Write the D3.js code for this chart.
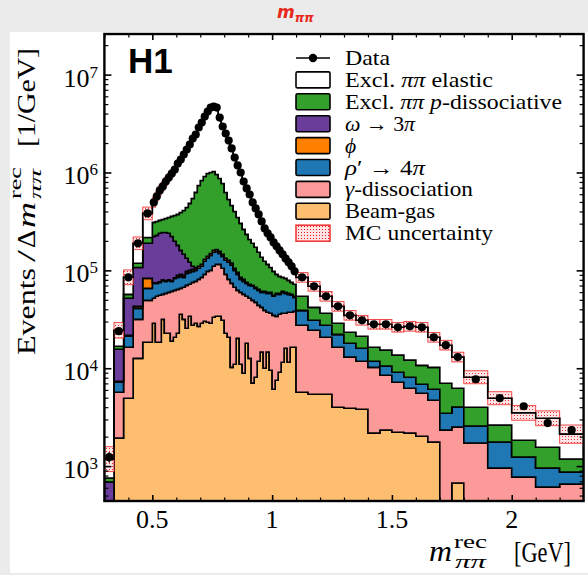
<!DOCTYPE html>
<html>
<head>
<meta charset="utf-8">
<script src="https://cdn.jsdelivr.net/npm/d3@7"></script>
<style>
  html, body { margin: 0; padding: 0; background: #ebebeb; }
  svg { display: block; }
  .serif { font-family: "Liberation Serif", "Times New Roman", serif; }
</style>
</head>
<body>
<svg id="chart" width="588" height="575"></svg>
<script>

// ---- data (values per GeV) ----
// bins: 0.30-0.50 in 0.04 steps, 0.50-1.10 in 0.0125 steps, 1.10-1.80 in 0.05, 1.80-2.30 in 0.1
var binEdges = [0.30, 0.34, 0.38, 0.42, 0.46, 0.50]
	.concat(d3.range(1, 49).map(function(k){ return +(0.5 + 0.0125 * k).toFixed(4); }))
	.concat([1.15, 1.20, 1.25, 1.30, 1.35, 1.40, 1.45, 1.50, 1.55, 1.60, 1.65, 1.70, 1.75, 1.80, 1.90, 2.00, 2.10, 2.20, 2.30]);

var beamGas = [0, 1930, 4940, 12600, 18400,
	28800,18400,18400,31600,22800,22800,18900,20700,22800,35600,31600,25600,34000,27500,28800,26800,28800,30200,29500,28800,33200,34000,34000,30900,22800,20700,10200,11000,20200,11000,8900,18000,12600,7040,8100,11800,14600,10000,14600,9540,6100,7550,9100,11500,16000,11500,16400,16400,
	5690,5430,5430,4000,3900,3810,2170,2330,2220,2170,2020,1760,0,671,0,0,0,0,0];

var gammaDiss = [0, 3760, 11460, 19000, 31000,
	23000,35900,37200,25300,35400,36800,42100,41800,41200,29900,35500,44700,38000,47900,48400,54100,56000,60800,68200,71200,76800,81000,81000,74100,68200,60200,63500,56100,42300,48600,48000,36300,39200,42360,39000,32100,27300,29000,22700,26860,28600,26350,26500,24900,20400,25800,20900,21700,
	21810,18970,15270,12400,9100,7990,8030,6150,4980,4080,3540,2950,2330,1830,1720,954,772,610,655];

var rhoPrime = [0, 1510, 4800, 9300, 16100,
	21900,19400,19800,22200,19000,19500,16200,20400,20800,21400,17700,22900,23400,22300,22800,24100,25200,33000,35300,42000,43000,41000,34000,34000,36000,40100,39300,32900,28500,21300,20300,19400,18500,19300,18400,18600,17700,20600,20900,21800,19600,23000,21300,23200,21800,19600,18300,14900,
	11500,6500,6800,5800,5000,4200,1600,2020,1900,1840,1310,1390,1140,1500,840,806,468,344,214];

var phi = [0, 150, 500, 1960, 17300,
	880,880,900,950,930,950,930,1000,4070,4170,4070,4470,4580,4690,4800,5040,5280,5950,6380,6820,7340,7490,7150,6670,6100,5810,5420,4800,4370,3880,3710,1770,1690,1650,1570,1500,1430,1430,1400,1400,1300,1370,1370,1430,1400,1370,1330,1270,
	0,0,0,0,0,0,0,0,0,0,0,0,0,0,0,0,0,0,0];

var omega = [687, 8280, 30100, 64140, 106200,
	147400,153400,162700,163950,165870,158950,143870,114100,91130,68930,57130,35330,21020,7610,1500,0,0,0,0,0,0,0,0,0,0,0,0,0,0,0,0,0,0,0,0,0,0,0,0,0,0,0,0,0,0,0,0,0,
	0,0,0,0,0,0,0,0,0,0,0,0,0,0,0,0,0,0,0];

var pDiss = [67, 1140, 5100, 11000, 28000,
	87000,88000,85000,87000,95000,108000,134000,166000,193000,230000,263000,306000,362000,433000,520000,627000,713700,780000,837600,851200,863700,790500,712900,626300,491900,403200,341600,295200,251600,217200,181100,157500,135000,118650,104930,89000,74970,62970,55400,47400,42100,32730,28630,23770,23300,20830,18470,17730,
	15300,11000,8900,6600,5300,5200,4600,4800,4500,4010,3830,4100,3560,2250,1440,860,600,606,311];

var elastic = [424, 7630, 28000, 71000, 165000,
	185000,253000,331000,389000,470000,542000,621000,709000,863000,967000,1117000,1279000,1448000,1679000,1820000,2143000,2411000,2820000,3213000,3600000,3686000,3646000,2771000,2178000,1875000,1590000,1300000,1020000,833000,698000,547000,454000,389000,305000,257000,220000,180000,144000,124000,110000,95300,85000,73100,61200,49100,41900,34600,25700,
	30500,26800,17900,14100,11400,9700,11700,12800,12600,14700,15500,10500,10170,6750,4090,2320,1660,1520,940];

var mcUnc = [0.34, 0.2, 0.19, 0.16, 0.16,
	0.12,0.11,0.11,0.10,0.10,0.09,0.09,0.08,0.08,0.07,0.07,0.06,0.06,0.06,0.05,0.05,0.05,0.05,0.04,0.04,0.04,0.04,0.04,0.05,0.05,0.05,0.05,0.05,0.05,0.05,0.05,0.05,0.06,0.06,0.06,0.06,0.06,0.06,0.07,0.07,0.07,0.07,0.07,0.07,0.08,0.08,0.08,0.08,
	0.12,0.12,0.12,0.12,0.12,0.12,0.12,0.12,0.12,0.12,0.12,0.12,0.12,0.12,0.165,0.165,0.19,0.19,0.24];

var dataVals = [1234, 23900, 84800, 189000, 382000,
	494000,569000,655000,720000,809000,889000,977000,1073000,1236000,1357000,1526000,1718000,1931000,2222000,2445000,2880000,3240000,3730000,4190000,4600000,4710000,4600000,3640000,2950000,2500000,2120000,1760000,1420000,1180000,1000000,809000,687000,596000,494000,429000,373000,316000,268000,239000,217000,193000,176000,160000,146000,132000,121000,110000,97700,
	84800,68700,54300,42900,34700,30900,28100,28100,26200,26800,26200,20700,17200,13000,7720,4940,4090,2750,2330];

var dataErr = [0.12, 0.03, 0.02, 0.02, 0.01,
	0.006,0.006,0.006,0.006,0.006,0.006,0.006,0.006,0.006,0.006,0.006,0.006,0.006,0.006,0.006,0.006,0.006,0.006,0.006,0.006,0.006,0.006,0.006,0.006,0.006,0.006,0.006,0.006,0.006,0.006,0.006,0.006,0.006,0.006,0.006,0.006,0.006,0.006,0.006,0.006,0.006,0.006,0.006,0.006,0.006,0.006,0.006,0.006,
	0.01,0.01,0.012,0.013,0.015,0.015,0.016,0.016,0.017,0.017,0.017,0.02,0.022,0.025,0.03,0.04,0.05,0.06,0.08];

var xTicks = [0.5, 1, 1.5, 2];
var xMinor = [0.3, 0.4, 0.6, 0.7, 0.8, 0.9, 1.1, 1.2, 1.3, 1.4, 1.6, 1.7, 1.8, 1.9, 2.1, 2.2];
var yTicks = [1e3, 1e4, 1e5, 1e6, 1e7];
var yTickExp = ["3", "4", "5", "6", "7"];

var keys = ["beamGas", "gammaDiss", "rhoPrime", "phi", "omega", "pDiss", "elastic"];
var colors = {beamGas: "#fdbf6f", gammaDiss: "#fb9a99", rhoPrime: "#1f78b4", phi: "#ff7f00",
	omega: "#6a3d9a", pDiss: "#33a02c", elastic: "#ffffff"};

// legend rows, top to bottom (last number = text length in px as seen in the picture)
var legendRows = [
	{kind: "data", parts: [["Data"]], len: 45},
	{kind: "box", fill: colors.elastic, parts: [["Excl. "], ["ππ", 1], [" elastic"]], len: 148},
	{kind: "box", fill: colors.pDiss, parts: [["Excl. "], ["ππ", 1], [" "], ["p", 1], ["-dissociative"]], len: 217},
	{kind: "box", fill: colors.omega, parts: [["ω", 1], [" → 3"], ["π", 1]], len: 70},
	{kind: "box", fill: colors.phi, parts: [["ϕ", 1]], len: 0},
	{kind: "box", fill: colors.rhoPrime, parts: [["ρ", 1], ["′ → 4"], ["π", 1]], len: 80},
	{kind: "box", fill: colors.gammaDiss, parts: [["γ", 1], ["-dissociation"]], len: 128},
	{kind: "box", fill: colors.beamGas, parts: [["Beam-gas"]], len: 90},
	{kind: "band", parts: [["MC uncertainty"]], len: 148}
];

function drawChart(){

	var L = 104.4, R = 583.6, T = 34, B = 501;
	var svg = d3.select("#chart");

	svg.append("rect").attr("x", 10).attr("y", 32).attr("width", 578).attr("height", 541).attr("fill", "#fff");

	var defs = svg.append("defs");
	var pat = defs.append("pattern").attr("id", "dots").attr("width", 3).attr("height", 3)
		.attr("patternUnits", "userSpaceOnUse");
	pat.append("rect").attr("width", 3).attr("height", 3).attr("fill", "#ffe4e4");
	pat.append("rect").attr("x", 1).attr("y", 1).attr("width", 1).attr("height", 1).attr("fill", "#e8141c");
	defs.append("clipPath").attr("id", "plotclip").append("rect")
		.attr("x", L).attr("y", T).attr("width", R - L).attr("height", B - T);

	var x = d3.scaleLinear().domain([0.3, 2.3]).range([L, R]);
	var y = d3.scaleLog().domain([440, 2.6e7]).range([B, T]).clamp(true);
	var yv = function(v){ return y(Math.max(v, 1)); };

	var table = binEdges.slice(0, -1).map(function(lo, i){
		return {lo: lo, hi: binEdges[i + 1], beamGas: beamGas[i], gammaDiss: gammaDiss[i], rhoPrime: rhoPrime[i],
			phi: phi[i], omega: omega[i], pDiss: pDiss[i], elastic: elastic[i]};
	});
	var series = d3.stack().keys(keys)(table);

	var stepPts = function(s){
		var pts = [];
		s.forEach(function(d){
			pts.push({x: d.data.lo, y0: d[0], y1: d[1]});
			pts.push({x: d.data.hi, y0: d[0], y1: d[1]});
		});
		return pts;
	};

	var area = d3.area().x(function(p){ return x(p.x); })
		.y0(function(p){ return yv(p.y0); }).y1(function(p){ return yv(p.y1); });

	var plot = svg.append("g").attr("clip-path", "url(#plotclip)");

	series.forEach(function(s){
		plot.append("path").attr("d", area(stepPts(s)))
			.attr("fill", colors[s.key]).attr("stroke", "#000").attr("stroke-width", 1.6)
			.attr("stroke-linejoin", "miter");
	});

	// MC uncertainty band
	var topSeries = series[series.length - 1];
	plot.selectAll("rect.band").data(topSeries).enter().append("rect").attr("class", "band")
		.attr("x", function(d){ return x(d.data.lo); })
		.attr("width", function(d){ return x(d.data.hi) - x(d.data.lo); })
		.attr("y", function(d, i){ return yv(d[1] * (1 + mcUnc[i])); })
		.attr("height", function(d, i){ return yv(d[1] / (1 + mcUnc[i])) - yv(d[1] * (1 + mcUnc[i])); })
		.attr("fill", "url(#dots)").attr("stroke", "#f03a3a").attr("stroke-width", 1).attr("opacity", 0.9);

	// total MC outline again on top of the band
	var line = d3.line().x(function(p){ return x(p.x); }).y(function(p){ return yv(p.y1); });
	plot.append("path").attr("d", line(stepPts(topSeries))).attr("fill", "none")
		.attr("stroke", "#000").attr("stroke-width", 1.6);

	// data
	var pts = table.map(function(d, i){ return {xc: (d.lo + d.hi) / 2, v: dataVals[i], e: dataErr[i]}; });
	plot.selectAll("line.err").data(pts).enter().append("line").attr("class", "err")
		.attr("x1", function(d){ return x(d.xc); }).attr("x2", function(d){ return x(d.xc); })
		.attr("y1", function(d){ return yv(d.v * (1 + d.e)); })
		.attr("y2", function(d){ return yv(d.v * (1 - d.e)); })
		.attr("stroke", "#000").attr("stroke-width", 1.5);
	plot.selectAll("circle.pt").data(pts).enter().append("circle").attr("class", "pt")
		.attr("cx", function(d){ return x(d.xc); }).attr("cy", function(d){ return yv(d.v); })
		.attr("r", 4.1).attr("fill", "#000");

	// ---- axes ----
	var yMinor = [];
	[2, 3, 4, 5, 6, 7].forEach(function(e){
		for (var m = 2; m <= 9; m ++){
			var v = m * Math.pow(10, e);
			if (v > 440 && v < 2.6e7) yMinor.push(v);
		}
	});

	var styleAxis = function(g, w){
		g.select(".domain").remove();
		g.selectAll("line").attr("stroke", "#000").attr("stroke-width", w);
	};
	svg.append("g").attr("transform", "translate(0," + B + ")")
		.call(d3.axisBottom(x).tickValues(xTicks).tickSize(-6).tickFormat("")).call(styleAxis, 1.6);
	svg.append("g").attr("transform", "translate(0," + B + ")")
		.call(d3.axisBottom(x).tickValues(xMinor).tickSize(-3.5).tickFormat("")).call(styleAxis, 1.2);
	svg.append("g").attr("transform", "translate(0," + T + ")")
		.call(d3.axisTop(x).tickValues(xTicks).tickSize(-6).tickFormat("")).call(styleAxis, 1.6);
	svg.append("g").attr("transform", "translate(0," + T + ")")
		.call(d3.axisTop(x).tickValues(xMinor).tickSize(-3.5).tickFormat("")).call(styleAxis, 1.2);
	svg.append("g").attr("transform", "translate(" + L + ",0)")
		.call(d3.axisLeft(y).tickValues(yTicks).tickSize(-7).tickFormat("")).call(styleAxis, 1.6);
	svg.append("g").attr("transform", "translate(" + L + ",0)")
		.call(d3.axisLeft(y).tickValues(yMinor).tickSize(-4).tickFormat("")).call(styleAxis, 1.2);
	svg.append("g").attr("transform", "translate(" + R + ",0)")
		.call(d3.axisRight(y).tickValues(yTicks).tickSize(-7).tickFormat("")).call(styleAxis, 1.6);
	svg.append("g").attr("transform", "translate(" + R + ",0)")
		.call(d3.axisRight(y).tickValues(yMinor).tickSize(-4).tickFormat("")).call(styleAxis, 1.2);

	svg.append("rect").attr("x", L).attr("y", T).attr("width", R - L).attr("height", B - T)
		.attr("fill", "none").attr("stroke", "#000").attr("stroke-width", 2.4);

	// tick labels
	svg.selectAll("text.xt").data(xTicks).enter().append("text").attr("class", "xt serif")
		.attr("x", function(d){ return x(d); }).attr("y", 528).attr("text-anchor", "middle")
		.attr("font-size", 26).text(function(d){ return d; });

	yTicks.forEach(function(v, i){
		var t = svg.append("text").attr("class", "serif").attr("x", 98).attr("y", y(v) + 12)
			.attr("text-anchor", "end").attr("font-size", 26);
		t.append("tspan").text("10");
		t.append("tspan").attr("dy", -9).attr("font-size", 17).text(yTickExp[i]);
	});

	// axis titles (pieces placed by hand, lengths pinned)
	var piece = function(g, txt, px, py, size, len, italic){
		var t = g.append("text").attr("class", "serif").attr("x", px).attr("y", py)
			.attr("font-size", size).attr("textLength", len).attr("lengthAdjust", "spacingAndGlyphs").text(txt);
		if (italic) t.attr("font-style", "italic");
		return t;
	};

	var xl = svg.append("g");
	piece(xl, "m", 429, 561, 29, 23, true);
	piece(xl, "rec", 454, 548, 19, 33, false);
	piece(xl, "ππ", 455, 568, 19, 31, true);
	piece(xl, "[GeV]", 514, 562, 29, 57, false);

	var yl = svg.append("g").attr("transform", "translate(35,355) rotate(-90)");
	piece(yl, "Events", 0, 0, 25, 87, false);
	piece(yl, "/", 93, 0, 25, 12, false);
	piece(yl, "Δ", 107, 0, 25, 18, false);
	piece(yl, "m", 127, 0, 25, 26, true);
	piece(yl, "rec", 156, -14, 17, 32, false);
	piece(yl, "ππ", 156, 6, 17, 30, true);
	piece(yl, "[1/GeV]", 208, 0, 25, 99, false);

	// H1 logo
	svg.append("text").attr("x", 128).attr("y", 73).attr("font-family", "Liberation Sans, Arial, sans-serif")
		.attr("font-weight", "bold").attr("font-size", 35).text("H1");

	// legend
	var lg = svg.append("g");
	legendRows.forEach(function(row, i){
		var cy = 58 + i * 21.9;
		if (row.kind == "data"){
			lg.append("line").attr("x1", 296).attr("x2", 330).attr("y1", cy).attr("y2", cy)
				.attr("stroke", "#000").attr("stroke-width", 1.6);
			lg.append("circle").attr("cx", 313).attr("cy", cy).attr("r", 4.2).attr("fill", "#000");
		} else if (row.kind == "band"){
			lg.append("rect").attr("x", 296).attr("y", cy - 8).attr("width", 34).attr("height", 16)
				.attr("fill", "url(#dots)").attr("stroke", "#f03a3a").attr("stroke-width", 1.6);
		} else {
			lg.append("rect").attr("x", 296).attr("y", cy - 8).attr("width", 34).attr("height", 16)
				.attr("rx", 1.5).attr("fill", row.fill).attr("stroke", "#000").attr("stroke-width", 1.6);
		}
		var t = lg.append("text").attr("class", "serif").attr("x", 345).attr("y", cy + 7).attr("font-size", 21.5)
			.attr("xml:space", "preserve");
		if (row.len) t.attr("textLength", row.len).attr("lengthAdjust", "spacingAndGlyphs");
		row.parts.forEach(function(p){
			var s = t.append("tspan").text(p[0]);
			if (p[1]) s.attr("font-style", "italic");
		});
	});

	// slide title
	var ttl = svg.append("text").attr("x", 277).attr("y", 18).attr("fill", "#e8261a")
		.attr("font-family", "DejaVu Sans, sans-serif").attr("font-weight", "bold").attr("font-style", "italic");
	ttl.append("tspan").attr("font-size", 17).text("m");
	ttl.append("tspan").attr("font-size", 12).attr("dy", 4).text("ππ");
}

drawChart();

</script>
</body>
</html>
